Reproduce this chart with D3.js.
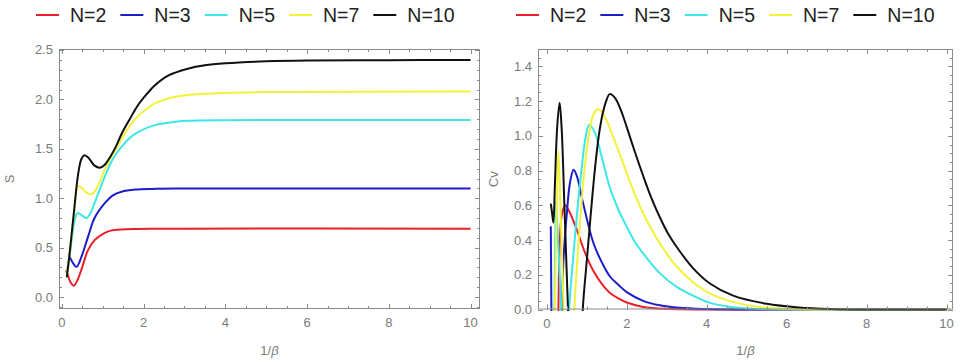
<!DOCTYPE html>
<html><head><meta charset="utf-8">
<script src="https://cdn.jsdelivr.net/npm/d3@7"></script>
<style>body{margin:0;background:#fff}svg{display:block}</style>
</head><body>
<svg id="c" width="960" height="364"></svg>
<script>
// ---------- data ----------
const seriesNames = ["N=2","N=3","N=5","N=7","N=10"];
const seriesColors = ["#e8202a","#1c1cc8","#3ee6e6","#f2f23a","#111111"];
const xTicks = [0,2,4,6,8,10];
const sTicks = [0,0.5,1,1.5,2,2.5];
const cvTicks = [0,0.2,0.4,0.6,0.8,1,1.2,1.4];

// entropy S vs 1/beta  [1/beta, S]
const sN2 = [[0.1,0.27],[0.15,0.22],[0.2,0.16],[0.29,0.115],[0.38,0.17],[0.48,0.28],[0.64,0.475],[0.8,0.577],[1.05,0.651],[1.2,0.673],[1.46,0.685],[1.8,0.69],[2.3,0.692],[3,0.693],[10,0.693]];
const sN3 = [[0.17,0.43],[0.25,0.36],[0.36,0.307],[0.48,0.41],[0.64,0.61],[0.8,0.8],[1.05,0.95],[1.25,1.03],[1.46,1.066],[1.8,1.088],[2.2,1.095],[3,1.098],[10,1.099]];
const sN5 = [[0.12,0.21],[0.2,0.45],[0.3,0.75],[0.38,0.85],[0.48,0.83],[0.6,0.8],[0.7,0.85],[0.8,0.95],[1.05,1.22],[1.2,1.36],[1.33,1.45],[1.46,1.52],[1.66,1.61],[1.86,1.67],[2.27,1.74],[2.7,1.77],[3.08,1.783],[4,1.79],[10,1.792]];
const sN7 = [[0.12,0.21],[0.2,0.48],[0.3,0.85],[0.4,1.12],[0.5,1.1],[0.6,1.06],[0.72,1.04],[0.85,1.1],[1.05,1.29],[1.2,1.41],[1.33,1.5],[1.46,1.6],[1.66,1.73],[1.86,1.83],[2.07,1.9],[2.27,1.96],[2.7,2.02],[3.08,2.045],[4,2.066],[5,2.075],[10,2.079]];
const sN10 = [[0.12,0.2],[0.2,0.48],[0.3,0.88],[0.4,1.25],[0.48,1.4],[0.55,1.435],[0.65,1.41],[0.8,1.33],[0.93,1.31],[1.05,1.34],[1.2,1.43],[1.33,1.53],[1.46,1.65],[1.66,1.8],[1.86,1.94],[2.07,2.05],[2.27,2.14],[2.6,2.24],[3.08,2.31],[3.5,2.345],[4,2.365],[5,2.385],[6,2.393],[8,2.397],[10,2.398]];

// heat capacity Cv vs 1/beta  [1/beta, Cv]  (negative parts lie outside the plot range)
const cvN2 = [[0.26,-0.5],[0.29,0],[0.33,0.42],[0.38,0.55],[0.46,0.6],[0.55,0.57],[0.75,0.46],[0.95,0.33],[1.17,0.22],[1.4,0.14],[1.58,0.095],[1.8,0.062],[2,0.04],[2.41,0.015],[3,0.004],[4,0],[10,0]];
const cvN3 = [[0.1,0.48],[0.115,0],[0.13,-0.5],[0.34,-0.5],[0.38,0],[0.42,0.3],[0.5,0.55],[0.58,0.73],[0.67,0.805],[0.75,0.77],[0.92,0.6],[1.17,0.38],[1.38,0.27],[1.58,0.19],[1.8,0.14],[2,0.1],[2.41,0.05],[2.83,0.024],[3.3,0.01],[4,0.003],[5,0],[10,0]];
const cvN5 = [[0.15,-0.5],[0.19,0],[0.23,0.62],[0.27,0.45],[0.36,0],[0.4,-0.5],[0.52,-0.5],[0.56,0],[0.65,0.27],[0.745,0.525],[0.87,0.81],[0.97,0.99],[1.06,1.063],[1.2,1.02],[1.35,0.9],[1.58,0.7],[1.8,0.57],[2,0.477],[2.2,0.39],[2.41,0.323],[2.83,0.208],[3.25,0.13],[3.7,0.075],[4.08,0.038],[4.6,0.015],[5.2,0.004],[6,0],[10,0]];
const cvN7 = [[0.15,-0.5],[0.2,0],[0.24,0.5],[0.29,0.91],[0.34,0.6],[0.42,0],[0.46,-0.5],[0.64,-0.5],[0.69,0],[0.76,0.27],[0.83,0.5],[0.95,0.82],[1.07,1.03],[1.18,1.13],[1.29,1.155],[1.45,1.11],[1.6,1.03],[1.8,0.91],[2,0.785],[2.2,0.665],[2.41,0.554],[2.83,0.38],[3.25,0.246],[3.7,0.15],[4.08,0.092],[4.66,0.044],[5.2,0.018],[5.9,0.004],[7,0],[10,0]];
const cvN10 = [[0.1,0.61],[0.13,0.56],[0.165,0.5],[0.2,0.7],[0.26,1.05],[0.32,1.19],[0.37,1.05],[0.44,0.6],[0.5,0.2],[0.53,0],[0.57,-0.5],[0.84,-0.5],[0.9,0],[1,0.28],[1.1,0.55],[1.2,0.8],[1.3,1.0],[1.4,1.13],[1.5,1.21],[1.57,1.24],[1.7,1.22],[1.85,1.15],[2,1.05],[2.2,0.91],[2.41,0.77],[2.62,0.64],[2.83,0.53],[3.05,0.43],[3.25,0.36],[3.65,0.24],[4.08,0.15],[4.66,0.08],[5.5,0.033],[6.3,0.012],[7.1,0.003],[8,0],[10,0]];

const sSeries = [sN2,sN3,sN5,sN7,sN10];
const cvSeries = [cvN2,cvN3,cvN5,cvN7,cvN10];

// ---------- drawing ----------
const svg = d3.select("#c");
const FONT = "'Liberation Sans', Arial, sans-serif";
const frameCol = "#8a8a8a", labCol = "#7a7a7a";

function panel(opts){
  const {id,left,right,top,bottom,xDom,yDom,yTicks,yMinorStep,yFmt,ylabel,series,legendX} = opts;
  const x = d3.scaleLinear().domain(xDom).range([left,right]);
  const y = d3.scaleLinear().domain(yDom).range([bottom,top]);
  const g = svg.append("g");

  g.append("clipPath").attr("id",id).append("rect")
    .attr("x",left).attr("y",top-1).attr("width",right-left).attr("height",bottom-top+2.5);

  // curves
  const line = d3.line().x(d=>x(d[0])).y(d=>y(d[1])).curve(d3.curveCatmullRom.alpha(0.5));
  series.forEach((s,i)=>{
    g.append("path").attr("d",line(s)).attr("fill","none")
      .attr("stroke",seriesColors[i]).attr("stroke-width",2)
      .attr("stroke-linejoin","round").attr("clip-path",`url(#${id})`);
  });

  // frame
  g.append("rect").attr("x",left+0.5).attr("y",top+0.5).attr("width",right-left-1).attr("height",bottom-top-1)
    .attr("fill","none").attr("stroke",frameCol).attr("stroke-width",1);

  // ticks
  const tk = g.append("g").attr("stroke",frameCol).attr("stroke-width",1);
  const xMinor = d3.range(Math.ceil(xDom[0]/0.5)*0.5, xDom[1]+1e-9, 0.5);
  xMinor.forEach(v=>{
    const major = xTicks.some(t=>Math.abs(t-v)<1e-6);
    const L = major?5:3, px = Math.round(x(v))+0.5;
    tk.append("line").attr("x1",px).attr("x2",px).attr("y1",bottom).attr("y2",bottom-L);
    tk.append("line").attr("x1",px).attr("x2",px).attr("y1",top).attr("y2",top+L);
  });
  const yMinor = d3.range(Math.ceil(yDom[0]/yMinorStep-1e-6)*yMinorStep, yDom[1]+1e-9, yMinorStep);
  yMinor.forEach(v=>{
    const major = yTicks.some(t=>Math.abs(t-v)<1e-6);
    const L = major?5:3, py = Math.round(y(v))+0.5;
    tk.append("line").attr("y1",py).attr("y2",py).attr("x1",left).attr("x2",left+L);
    tk.append("line").attr("y1",py).attr("y2",py).attr("x1",right).attr("x2",right-L);
  });

  // tick labels
  xTicks.forEach(v=>{
    g.append("text").attr("x",x(v)).attr("y",bottom+18).attr("text-anchor","middle")
      .attr("font-family",FONT).attr("font-size",13).attr("fill",labCol).text(d3.format("d")(v));
  });
  yTicks.forEach(v=>{
    g.append("text").attr("x",left-6).attr("y",y(v)+4.5).attr("text-anchor","end")
      .attr("font-family",FONT).attr("font-size",13).attr("fill",labCol).text(yFmt(v));
  });

  // axis titles
  const xt = g.append("text").attr("x",(left+right)/2).attr("y",355).attr("text-anchor","middle")
    .attr("font-family",FONT).attr("font-size",13).attr("fill",labCol);
  xt.append("tspan").text("1/");
  xt.append("tspan").attr("font-style","italic").text("β");
  g.append("text").attr("transform",`translate(${opts.ylabX},${(top+bottom)/2}) rotate(-90)`)
    .attr("text-anchor","middle").attr("font-family",FONT).attr("font-size",13).attr("fill",labCol).text(ylabel);

  // legend
  const lg = g.append("g");
  let cx = legendX;
  seriesNames.forEach((n,i)=>{
    lg.append("line").attr("x1",cx).attr("x2",cx+23).attr("y1",15).attr("y2",15)
      .attr("stroke",seriesColors[i]).attr("stroke-width",2);
    const t = lg.append("text").attr("x",cx+34).attr("y",22).attr("font-family",FONT)
      .attr("font-size",19.5).attr("fill","#222").text(n);
    cx += 34 + t.node().getComputedTextLength() + 14;
  });
}

panel({id:"cl",left:59,right:480,top:49,bottom:309,xDom:[-0.07,10.23],yDom:[-0.12,2.51],
  yTicks:sTicks,yMinorStep:0.1,yFmt:d3.format(".1f"),ylabel:"S",ylabX:14,series:sSeries,legendX:36});
panel({id:"cr",left:538,right:953,top:49,bottom:309.5,xDom:[-0.22,10.16],yDom:[0,1.5],
  yTicks:cvTicks,yMinorStep:0.05,yFmt:d3.format(".1f"),ylabel:"Cv",ylabX:498,series:cvSeries,legendX:516});
</script>
</body></html>
